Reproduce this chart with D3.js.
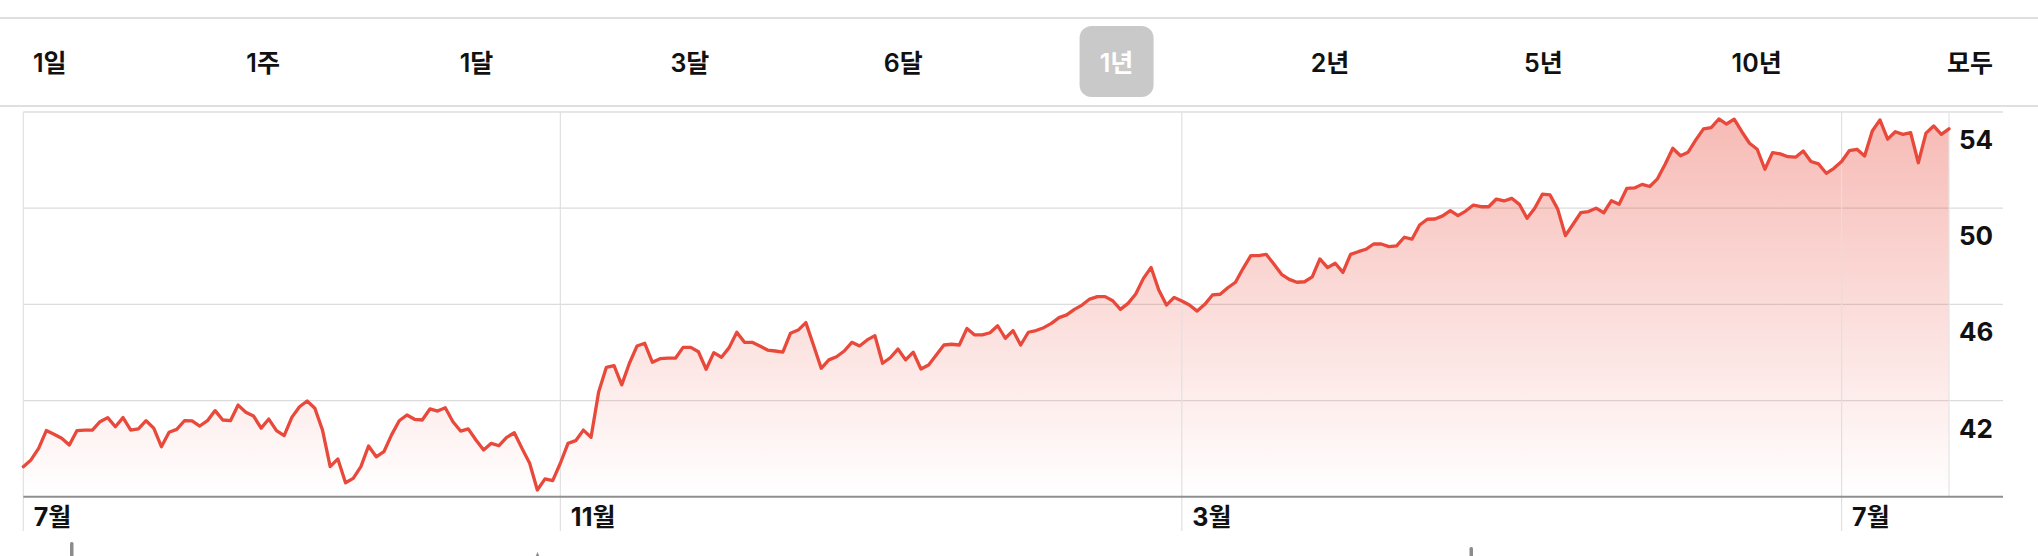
<!DOCTYPE html>
<html><head><meta charset="utf-8">
<script src="https://cdn.jsdelivr.net/npm/d3@7"></script>
<style>
html,body{margin:0;padding:0;background:#fff;}
svg{display:block;}
</style></head><body>
<svg id="c" width="2038" height="556"></svg>
<script>
const ranges = ["1일","1주","1달","3달","6달","1년","2년","5년","10년","모두"];
const selectedRange = "1년";
const prices = [
39.25,39.53,40.01,40.75,40.60,40.43,40.15,40.75,40.77,40.77,
41.12,41.29,40.91,41.29,40.77,40.82,41.16,40.85,40.08,40.68,
40.80,41.16,41.15,40.94,41.16,41.58,41.19,41.16,41.81,41.51,
41.36,40.85,41.23,40.75,40.54,41.30,41.74,41.98,41.68,40.77,
39.25,39.57,38.58,38.76,39.25,40.11,39.66,39.87,40.57,41.16,
41.40,41.22,41.19,41.65,41.56,41.70,41.12,40.73,40.82,40.36,
39.94,40.22,40.12,40.47,40.66,40.01,39.39,38.28,38.74,38.67,
39.39,40.22,40.33,40.77,40.47,42.37,43.38,43.45,42.65,43.55,
44.27,44.38,43.59,43.74,43.76,43.76,44.21,44.21,44.03,43.30,
43.99,43.80,44.20,44.84,44.42,44.42,44.27,44.10,44.06,44.01,
44.80,44.93,45.24,44.30,43.34,43.69,43.82,44.06,44.42,44.27,
44.52,44.70,43.55,43.78,44.14,43.69,44.01,43.31,43.48,43.89,
44.31,44.34,44.31,45.00,44.73,44.73,44.82,45.11,44.59,44.91,
44.31,44.84,44.91,45.03,45.21,45.45,45.56,45.79,45.97,46.22,
46.32,46.32,46.15,45.79,46.04,46.43,47.08,47.53,46.60,45.97,
46.29,46.14,45.97,45.72,46.00,46.39,46.42,46.69,46.92,47.50,
48.03,48.03,48.08,47.68,47.25,47.04,46.92,46.94,47.14,47.89,
47.53,47.71,47.33,48.08,48.19,48.29,48.51,48.51,48.40,48.43,
48.79,48.71,49.30,49.54,49.55,49.68,49.90,49.69,49.88,50.13,
50.06,50.06,50.38,50.30,50.41,50.16,49.58,50.00,50.58,50.55,
49.96,48.86,49.33,49.81,49.86,50.00,49.81,50.31,50.16,50.82,
50.84,50.99,50.90,51.22,51.83,52.49,52.18,52.33,52.84,53.30,
53.35,53.71,53.50,53.70,53.18,52.70,52.45,51.62,52.31,52.26,
52.14,52.12,52.38,51.94,51.84,51.45,51.66,51.94,52.39,52.45,
52.17,53.21,53.67,52.87,53.18,53.07,53.14,51.89,53.12,53.42,
53.07,53.30
];
const monthLabels = ["7월","11월","3월","7월"];
const monthIndex = [0,70,151,237];
const yTicks = [54,50,46,42];
const yDomain = [38,54];

const FONT = 'Inter, "Noto Sans CJK KR", sans-serif';
const svg = d3.select("#c");
const plotLeft = 23.3, plotRight = 1949, panelRight = 2003, plotTop = 112, plotBottom = 496.7;

const x = d3.scaleLinear().domain([0, prices.length - 1]).range([plotLeft, plotRight]);
const y = d3.scaleLinear().domain(yDomain).range([plotBottom, plotTop]);
const bx = d3.scalePoint().domain(ranges).range([49.8, 1970]);

// separators
svg.append("line").attr("x1",0).attr("x2",2038).attr("y1",18).attr("y2",18)
  .attr("stroke","#d4d4d4").attr("stroke-width",1.5);
svg.append("line").attr("x1",0).attr("x2",2038).attr("y1",106).attr("y2",106)
  .attr("stroke","#d4d4d4").attr("stroke-width",1.5);

// range buttons
const bg = svg.append("g");
bg.append("rect")
  .attr("x", bx(selectedRange) - 37).attr("y", 26).attr("width", 74).attr("height", 71)
  .attr("rx", 12).attr("fill", "#c9c9c9");
bg.selectAll("text.btn").data(ranges).join("text")
  .attr("class","btn")
  .attr("x", d => bx(d)).attr("y",72)
  .attr("text-anchor","middle")
  .style("font-family",FONT).style("font-size","25px").style("font-weight",600)
  .attr("fill", d => d === selectedRange ? "#fff" : "#111")
  .text(d => d);

// panel
const panel = svg.append("g");
panel.append("line").attr("x1",plotLeft).attr("x2",panelRight).attr("y1",plotTop).attr("y2",plotTop)
  .attr("stroke","#e6e6e6").attr("stroke-width",2);

// horizontal grid
panel.selectAll("line.hg").data(yTicks.filter(t => y(t) > plotTop + 2)).join("line")
  .attr("class","hg")
  .attr("x1",plotLeft).attr("x2",panelRight)
  .attr("y1",d => y(d)).attr("y2",d => y(d))
  .attr("stroke","#dcdcdc").attr("stroke-width",1.2);

// gradient
const defs = svg.append("defs");
const grad = defs.append("linearGradient").attr("id","fillGrad")
  .attr("gradientUnits","userSpaceOnUse")
  .attr("x1",0).attr("x2",0).attr("y1",plotTop).attr("y2",plotBottom);
grad.append("stop").attr("offset","0%").attr("stop-color","#e9483a").attr("stop-opacity",0.38);
grad.append("stop").attr("offset","100%").attr("stop-color","#e9483a").attr("stop-opacity",0.0);

const area = d3.area().x((d,i) => x(i)).y0(y(yDomain[0])).y1(d => y(d));
const line = d3.line().x((d,i) => x(i)).y(d => y(d));

panel.append("path").datum(prices).attr("d", area).attr("fill","url(#fillGrad)");

// vertical month grid lines
panel.selectAll("line.vg").data(monthIndex).join("line")
  .attr("class","vg")
  .attr("x1",d => x(d)).attr("x2",d => x(d))
  .attr("y1",plotTop).attr("y2",531)
  .attr("stroke","#e0e0e0").attr("stroke-width",1.2);
// right plot edge
panel.append("line").attr("x1",plotRight).attr("x2",plotRight).attr("y1",plotTop).attr("y2",plotBottom)
  .attr("stroke","#e4e4e4").attr("stroke-width",1.2);

panel.append("path").datum(prices).attr("d", line)
  .attr("fill","none").attr("stroke","#e8493b").attr("stroke-width",3.3)
  .attr("stroke-linejoin","round").attr("stroke-linecap","round");

// bottom axis
const xAxis = d3.axisBottom(x).tickValues(monthIndex)
  .tickFormat((d,i) => monthLabels[i]).tickSize(0).tickPadding(0);
const xg = svg.append("g").attr("transform",`translate(0,${plotBottom})`).call(xAxis);
xg.attr("font-family",null).attr("font-size",null);
xg.select(".domain").remove();
xg.selectAll("text").attr("dy",null).attr("y",29).attr("x",10)
  .attr("text-anchor","start").attr("fill","#111")
  .style("font-family",FONT).style("font-size","25px").style("font-weight",700);
svg.append("line").attr("x1",plotLeft).attr("x2",panelRight).attr("y1",plotBottom).attr("y2",plotBottom)
  .attr("stroke","#8f8f8f").attr("stroke-width",2);

// right y labels
const yAxis = d3.axisRight(y).tickValues(yTicks).tickSize(0).tickPadding(0);
const yg = svg.append("g").attr("transform","translate(1959,0)").call(yAxis);
yg.attr("font-family",null).attr("font-size",null);
yg.select(".domain").remove();
yg.selectAll("text").attr("dy",null).attr("y",36.5).attr("x",0)
  .attr("text-anchor","start").attr("fill","#111")
  .style("font-family",FONT).style("font-size","26px").style("font-weight",700);

// partial controls cut off at bottom
svg.append("rect").attr("x",70).attr("y",542).attr("width",3.5).attr("height",20).attr("rx",1.5).attr("fill","#8c8c8c");
svg.append("path").attr("d","M537.5,552 L535.5,556.5 L539.5,556.5 Z").attr("fill","#8c8c8c");
svg.append("rect").attr("x",1469.5).attr("y",547).attr("width",3.5).attr("height",15).attr("rx",1.5).attr("fill","#8c8c8c");
</script>
</body></html>
